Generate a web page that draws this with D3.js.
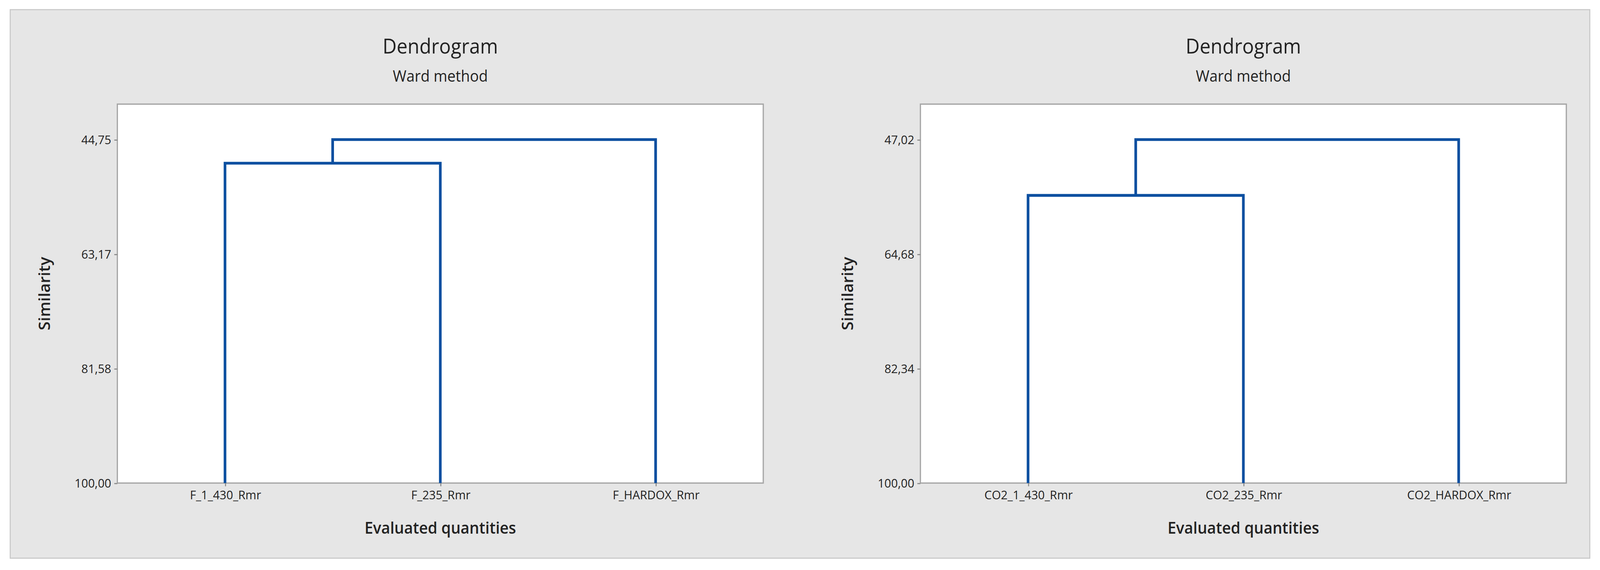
<!DOCTYPE html>
<html>
<head>
<meta charset="utf-8">
<script src="https://cdn.jsdelivr.net/npm/d3@7"></script>
<style>
  html, body { margin: 0; padding: 0; background: #fff; overflow: hidden; width: 100%; height: 100%; }
  svg { display: block; }
  text { font-family: "Open Sans", "Noto Sans", sans-serif; fill: #222; }
</style>
</head>
<body>
<div id="container"></div>
<script>
// data
const leftLeaves = ["F_1_430_Rmr", "F_235_Rmr", "F_HARDOX_Rmr"];
const leftTicks = [44.75, 63.17, 81.58, 100.00];
const leftMerges = [48.55, 44.75]; // (leaf0+leaf1), (cluster+leaf2)
const leftDomain = [39.05, 100];

const rightLeaves = ["CO2_1_430_Rmr", "CO2_235_Rmr", "CO2_HARDOX_Rmr"];
const rightTicks = [47.02, 64.68, 82.34, 100.00];
const rightMerges = [55.63, 47.02];
const rightDomain = [41.55, 100];

const W = 1568, H = 531;
const svg = d3.select("#container").append("svg")
  .attr("width", window.innerWidth).attr("height", window.innerHeight)
  .attr("viewBox", `0 0 ${W} ${H}`)
  .attr("preserveAspectRatio", "none");

svg.append("rect").attr("x", 10).attr("y", 9).attr("width", 1548).attr("height", 511)
  .attr("fill", "#e6e6e6").attr("stroke", "#c8c8c8").attr("stroke-width", 1);

const fmt = v => v.toFixed(2).replace(".", ",");

function drawPanel(x0, leaves, ticks, merges, domain) {
  const box = { x: x0, y: 97, w: 633, h: 353 };
  const g = svg.append("g");
  const cx = box.x + box.w / 2;

  g.append("text").attr("x", cx).attr("y", 50).attr("text-anchor", "middle")
    .style("font-size", "19px").text("Dendrogram");
  g.append("text").attr("x", cx).attr("y", 76).attr("text-anchor", "middle")
    .style("font-size", "14.5px").text("Ward method");

  g.append("rect").attr("x", box.x).attr("y", box.y).attr("width", box.w).attr("height", box.h)
    .attr("fill", "#fff").attr("stroke", "#a6a6a6").attr("stroke-width", 1.2);

  const x = d3.scalePoint().domain(leaves).range([box.x, box.x + box.w]).padding(0.5);
  const y = d3.scaleLinear().domain(domain).range([box.y, box.y + box.h]);

  const yAxis = g.append("g").attr("transform", `translate(${box.x},0)`)
    .call(d3.axisLeft(y).tickValues(ticks).tickFormat(fmt).tickSize(3).tickPadding(3));
  const xAxis = g.append("g").attr("transform", `translate(0,${box.y + box.h})`)
    .call(d3.axisBottom(x).tickSize(3).tickPadding(4));
  [yAxis, xAxis].forEach(a => {
    a.select(".domain").remove();
    a.selectAll("line").attr("stroke", "#888");
    a.selectAll("text").style("font-size", "11.5px").style("font-family", "\"Open Sans\", sans-serif").attr("fill", "#222");
  });

  g.append("text").attr("transform", `translate(${box.x - 66},${box.y + box.h / 2}) rotate(-90)`)
    .attr("text-anchor", "middle").style("font-size", "15px").style("font-weight", "600").text("Similarity");
  g.append("text").attr("x", cx).attr("y", 497).attr("text-anchor", "middle")
    .style("font-size", "15px").style("font-weight", "600").text("Evaluated quantities");

  const x0l = x(leaves[0]), x1l = x(leaves[1]), x2l = x(leaves[2]);
  const mid = (x0l + x1l) / 2;
  const base = y(100);
  const y1 = y(merges[0]), y2 = y(merges[1]);
  const path = d3.path();
  path.moveTo(x0l, base); path.lineTo(x0l, y1); path.lineTo(x1l, y1); path.lineTo(x1l, base);
  path.moveTo(mid, y1); path.lineTo(mid, y2); path.lineTo(x2l, y2); path.lineTo(x2l, base);
  g.append("path").attr("d", path.toString()).attr("fill", "none")
    .attr("stroke", "#0b4fa0").attr("stroke-width", 2.6);
}

drawPanel(115, leftLeaves, leftTicks, leftMerges, leftDomain);
drawPanel(902, rightLeaves, rightTicks, rightMerges, rightDomain);
</script>
</body>
</html>
